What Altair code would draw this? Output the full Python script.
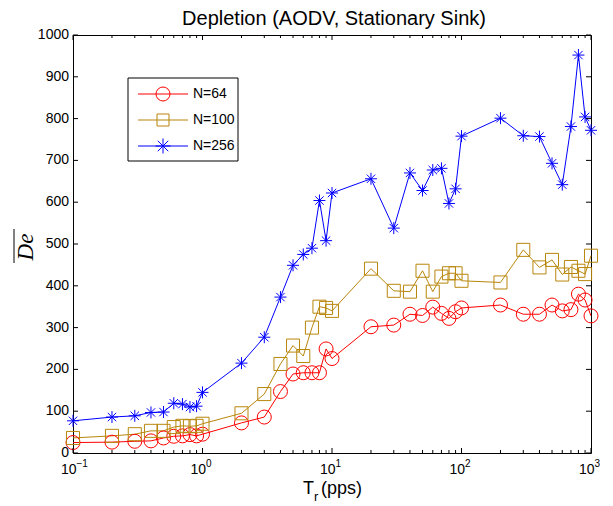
import altair as alt
import pandas as pd

# ---- data ----
tr = [0.1, 0.2, 0.3, 0.4, 0.5, 0.6, 0.7, 0.8, 0.9, 1,
      2, 3, 4, 5, 6, 7, 8, 9, 10,
      20, 30, 40, 50, 60, 70, 80, 90, 100,
      200, 300, 400, 500, 600, 700, 800, 900, 1000]
de_64 = [25, 26, 28, 29, 36, 40, 41, 44, 41, 45,
         72, 86, 147, 189, 192, 192, 192, 249, 226,
         302, 306, 332, 329, 349, 334, 322, 338, 347,
         354, 332, 332, 354, 340, 343, 380, 366, 328]
de_100 = [36, 41, 45, 53, 53, 62, 65, 64, 65, 70,
          95, 141, 213, 257, 232, 300, 350, 347, 340,
          441, 388, 386, 436, 386, 422, 430, 430, 412,
          408, 486, 444, 462, 427, 445, 436, 428, 472]
de_256 = [77, 86, 89, 97, 98, 119, 117, 110, 112, 145,
          215, 277, 373, 449, 475, 490, 604, 508, 622,
          656, 538, 670, 628, 677, 681, 597, 632, 758,
          801, 759, 757, 693, 642, 781, 952, 804, 772]

series_names = ["N=64", "N=100", "N=256"]
series_colors = ["#FF0000", "#B8860B", "#0000FF"]
ASTERISK = "M-1,0L1,0M0,-1L0,1M-0.7,-0.7L0.7,0.7M-0.7,0.7L0.7,-0.7"
series_shapes = ["circle", "square", ASTERISK]
series_sizes = [196, 144, 225]

y_ticks = list(range(0, 1001, 100))
x_decades = [0.1, 1, 10, 100, 1000]
x_exponents = ["\u22121", "0", "1", "2", "3"]
x_minor = [m * d for d in [0.1, 1, 10, 100] for m in range(2, 10)]

title_text = "Depletion (AODV, Stationary Sink)"

# ---- layout ----
W, H = 518, 418
FONT = "Liberation Sans"

rows = []
for name, vals in zip(series_names, [de_64, de_100, de_256]):
    for x, v in zip(tr, vals):
        rows.append({"tr": x, "de": v, "series": name})
df = pd.DataFrame(rows)

x_scale = alt.Scale(type="log", domain=[0.1, 1000], nice=False)
y_scale = alt.Scale(domain=[0, 1000], nice=False)
color = alt.Color("series:N", scale=alt.Scale(domain=series_names, range=series_colors), legend=None)

lines = alt.Chart(df).mark_line(strokeWidth=1).encode(
    x=alt.X("tr:Q", scale=x_scale, axis=None),
    y=alt.Y("de:Q", scale=y_scale, axis=None),
    color=color,
    detail="series:N",
)

points = alt.Chart(df).mark_point(filled=False, strokeWidth=1, opacity=1).encode(
    x=alt.X("tr:Q", scale=x_scale, axis=None),
    y=alt.Y("de:Q", scale=y_scale, axis=None),
    color=color,
    shape=alt.Shape("series:N", scale=alt.Scale(domain=series_names, range=series_shapes), legend=None),
    size=alt.Size("series:O", scale=alt.Scale(domain=series_names, range=series_sizes), legend=None),
)

one = pd.DataFrame({"k": [0]})
dec_df = pd.DataFrame({"v": x_decades, "base": ["10"] * 5, "exp": x_exponents})
minor_df = pd.DataFrame({"v": x_minor})
ytick_df = pd.DataFrame({"v": y_ticks, "lab": [str(v) for v in y_ticks]})

def xtick(data, y0, y1):
    return alt.Chart(data).mark_rule(color="black", strokeWidth=1).encode(
        x=alt.X("v:Q", scale=x_scale, axis=None), y=alt.value(y0), y2=alt.value(y1))

def ytick(x0, x1):
    return alt.Chart(ytick_df).mark_rule(color="black", strokeWidth=1).encode(
        y=alt.Y("v:Q", scale=y_scale, axis=None), x=alt.value(x0), x2=alt.value(x1))

ticks = [
    xtick(dec_df, H, H - 5), xtick(minor_df, H, H - 3),
    xtick(dec_df, 0, 5), xtick(minor_df, 0, 3),
    ytick(0, 5), ytick(W - 5, W),
]

ylab = alt.Chart(ytick_df).mark_text(align="right", baseline="middle", font=FONT, fontSize=14,
                                     color="black").encode(
    y=alt.Y("v:Q", scale=y_scale, axis=None), x=alt.value(-4), text="lab:N")

xlab_base = alt.Chart(dec_df).mark_text(align="right", baseline="alphabetic", dx=3.5,
                                         font=FONT, fontSize=14, color="black").encode(
    x=alt.X("v:Q", scale=x_scale, axis=None), y=alt.value(439), text="base:N")
xlab_exp = alt.Chart(dec_df).mark_text(align="left", baseline="alphabetic", dx=3.5,
                                        font=FONT, fontSize=10, color="black").encode(
    x=alt.X("v:Q", scale=x_scale, axis=None), y=alt.value(432), text="exp:N")

def txt(s, x, y, size, align="left", angle=0, font=FONT, style="normal"):
    return alt.Chart(one).mark_text(align=align, baseline="alphabetic", fontSize=size, font=font,
                                    fontStyle=style, angle=angle, color="black").encode(
        x=alt.value(x), y=alt.value(y), text=alt.value(s))

title = txt(title_text, 261, -10, 20, align="center")
xt_T = txt("T", 230, 459, 18)
xt_r = txt("r", 241, 466, 13)
xt_p = txt("(pps)", 248, 459, 18)
yt = txt("De", -40, 212, 23, align="center", angle=270, font="Liberation Serif", style="italic")
yt_bar = alt.Chart(one).mark_rule(color="black", strokeWidth=1).encode(
    x=alt.value(-59), y=alt.value(194), y2=alt.value(228))

legend_box = alt.Chart(one).mark_rect(fill="white", stroke="black", strokeWidth=1).encode(
    x=alt.value(55), x2=alt.value(165), y=alt.value(43), y2=alt.value(126))
legend_layers = [legend_box]
for i, (name, col, shp, sz) in enumerate(zip(series_names, series_colors, series_shapes, series_sizes)):
    ry = 59 + 26 * i
    legend_layers.append(alt.Chart(one).mark_rule(color=col, strokeWidth=1).encode(
        x=alt.value(65), x2=alt.value(115), y=alt.value(ry)))
    legend_layers.append(alt.Chart(one).mark_point(filled=False, color=col, strokeWidth=1, opacity=1).encode(
        x=alt.value(90), y=alt.value(ry), shape=alt.value(shp), size=alt.value(sz)))
    legend_layers.append(alt.Chart(one).mark_text(align="left", baseline="middle", font=FONT,
                                                  fontSize=14, color="black").encode(
        x=alt.value(120), y=alt.value(ry), text=alt.value(name)))

chart = alt.layer(
    lines, points, *ticks, ylab, xlab_base, xlab_exp, title, xt_T, xt_r, xt_p, yt, yt_bar,
    *legend_layers
).properties(
    width=W, height=H,
    autosize=alt.AutoSizeParams(type="none"),
    padding={"left": 65, "top": 27, "right": 14, "bottom": 55},
    background="white",
).configure_view(stroke="black", strokeWidth=1)

chart.save("out.html", embed_options={"renderer": "svg", "actions": False})
